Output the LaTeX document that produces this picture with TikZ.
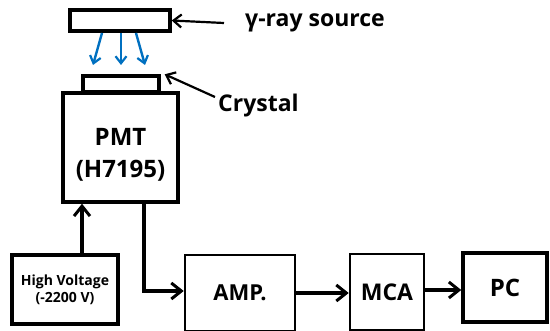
\documentclass[tikz,border=0pt]{standalone}
\usepackage{fontspec}
\setmainfont{Open Sans}
\usetikzlibrary{arrows.meta}
\definecolor{rayblue}{RGB}{0,112,192}
\tikzset{
  box/.style={draw=black, line width=3.4pt, fill=white},
  thinbox/.style={draw=black, line width=2.6pt, fill=white},
  flow/.style={line width=3.4pt, -{Straight Barb[length=10pt,width=16pt,line width=3pt]}},
  pointer/.style={line width=2.2pt, -{Straight Barb[length=8pt,width=13pt,line width=2.2pt]}},
  ray/.style={draw=rayblue, line width=2.4pt, -{Straight Barb[length=7pt,width=11pt,line width=2.2pt]}},
  lbl/.style={inner sep=0pt}
}
\begin{document}
\begin{tikzpicture}[x=1pt,y=-1pt]
\useasboundingbox (0,0) rectangle (550,331);

% source, crystal, photomultiplier
\node[box, minimum width=100pt, minimum height=21pt] (src) at (120,20.5) {};
\node[box, minimum width=76pt, minimum height=16pt] (cry) at (121,84) {};
\node[box, minimum width=115pt, minimum height=109pt] (pmt) at (120.5,147.5) {};
\node[lbl, align=center, font=\bfseries\fontsize{24}{32}\selectfont] (pmttext) at ([yshift=-7pt]pmt.center) {PMT\\(H7195)};

% labels
\node[lbl, anchor=base west, font=\bfseries\fontsize{23}{26}\selectfont] (srclbl) at (245,27) {γ-ray source};
\node[lbl, anchor=base west, font=\bfseries\fontsize{23}{26}\selectfont] (crylbl) at (218,112) {Crystal};
\coordinate (srctail) at (224,23);
\coordinate (crytail) at (215,97);
\draw[pointer] (srctail) -- (src.east);
\draw[pointer] (crytail) -- ([xshift=4pt]cry.north east);

% gamma rays
\coordinate (r1a) at (102,33); \coordinate (r1b) at (93,65);
\coordinate (r2a) at (121,33); \coordinate (r2b) at (121,65);
\coordinate (r3a) at (136,33); \coordinate (r3b) at (145,65);
\draw[ray] (r1a) -- (r1b);
\draw[ray] (r2a) -- (r2b);
\draw[ray] (r3a) -- (r3b);

% electronics chain
\node[box, minimum width=106pt, minimum height=69pt, align=center, font=\bfseries\fontsize{14}{17}\selectfont] (hv) at (65,289.5) {High Voltage\\(-2200 V)};
\node[thinbox, minimum width=110pt, minimum height=76pt, font=\bfseries\fontsize{22}{24}\selectfont] (amp) at (240,293) {AMP.};
\node[thinbox, minimum width=74pt, minimum height=76pt, font=\bfseries\fontsize{23}{24}\selectfont] (mca) at (387,292) {MCA};
\node[box, minimum width=84pt, minimum height=69pt, font=\bfseries\fontsize{24}{24}\selectfont] (pc) at (505,287.5) {PC};

\draw[flow] (hv.north -| 82,0) -- (pmt.south -| 82,0);
\draw[flow] (pmt.south -| 144,0) |- ([yshift=2pt]amp.west);
\draw[flow] (amp.east |- 0,293) -- (mca.west |- 0,293);
\draw[flow] (mca.east |- 0,290) -- (pc.west |- 0,290);
\end{tikzpicture}
\end{document}
